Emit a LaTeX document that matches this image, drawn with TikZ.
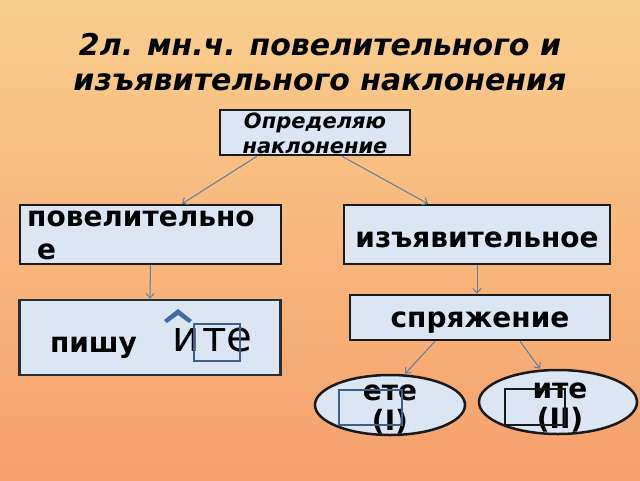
\documentclass[tikz,border=0pt]{standalone}
\usepackage{fontspec}
\setmainfont{DejaVu Sans}
\usetikzlibrary{arrows.meta,shapes.geometric}
\definecolor{peach}{HTML}{F9CE8D}
\definecolor{salmon}{HTML}{F5A06D}
\definecolor{pale}{HTML}{DCE6F2}
\definecolor{ink}{HTML}{1A1A1A}
\definecolor{slate}{HTML}{5D7E9E}
\definecolor{steel}{HTML}{3F6CA6}
\definecolor{frame}{HTML}{3E5F88}
\tikzset{
  box/.style={draw=ink,fill=pale,line width=2.5pt,inner sep=0pt},
  boxs/.style={box,draw=ink!70!frame},
  oval/.style={ellipse,draw=ink,fill=pale,line width=2.5pt,inner sep=0pt},
  arr/.style={-{Straight Barb[length=4.5pt,width=8pt]},line width=1pt,color=slate},
  head/.style={font=\fontsize{30}{35}\selectfont\bfseries\itshape,align=center,inner sep=0pt},
  lbl/.style={font=\fontsize{28}{33}\selectfont\bfseries,align=center,inner sep=0pt},
  lblo/.style={lbl,font=\fontsize{28}{30}\selectfont\bfseries},
  lbli/.style={font=\fontsize{21}{25}\selectfont\bfseries\itshape,align=center,inner sep=0pt},
  hint/.style={draw=frame,line width=1.5pt},
}
\begin{document}
\begin{tikzpicture}[x=1pt,y=-1pt]
\shade[top color=peach,bottom color=salmon] (0,0) rectangle (640,480);
\node[head] (t) at (320,62) {2л. мн.ч. повелительного и\\изъявительного наклонения};
% top box
\node[box,minimum width=190,minimum height=45] (q) at (315,132.5) {};
\node[lbli] (qt) at (315,133) {Определяю\\наклонение};
% second row
\node[box,minimum width=261,minimum height=59] (p) at (150.5,234.5) {};
\node[lbl,align=left,anchor=north west] (pt) at (27,211) {повелительно\\\hspace{10pt}е};
\node[box,minimum width=266,text height=42,text depth=17,font=\fontsize{28}{33}\selectfont\bfseries] (iz) at (477,234.5) {изъявительное};
% third row
\node[boxs,minimum width=261,minimum height=75] (pi) at (150,337.5) {};
\node[lbl,anchor=base] (piw) at (93.5,352) {пишу};
\node[font=\fontsize{42}{42}\selectfont,anchor=base west,inner sep=0pt] (pie) at (172,351) {и\hspace{3pt}те};
\fill[steel] (164,320) -- (178,309) -- (192,320) -- (189,323) -- (178,315) -- (167,323) -- cycle;
\draw[hint] (194,324) rectangle (240,361);
\node[box,minimum width=260,text height=32,text depth=13,font=\fontsize{28}{33}\selectfont\bfseries] (sp) at (480,317.5) {спряжение};
% endings
\node[oval,minimum width=150,minimum height=60] (e1) at (390,405) {};
\node[lblo] (e1t) at (390,409) {ете\\(I)};
\draw[hint] (339,390) rectangle (402,425);
\node[oval,minimum width=158,minimum height=64] (e2) at (558,402) {};
\node[lblo] (e2t) at (560,407) {ите\\(II)};
\draw[hint,draw=ink,line width=2pt] (505,389) rectangle (565,425);
% arrows
\draw[arr] ([xshift=-58]q.south) -- ([xshift=31.5]p.north);
\draw[arr] ([xshift=27]q.south) -- ([xshift=-49]iz.north);
\draw[arr] (p.south) -- (pi.north);
\draw[arr] (iz.south) -- (iz.south |- sp.north);
\draw[arr] ([xshift=-45]sp.south) -- ([xshift=15]e1.north);
\draw[arr] ([xshift=40]sp.south) -- ([xshift=-18]e2.north);
\end{tikzpicture}
\end{document}
